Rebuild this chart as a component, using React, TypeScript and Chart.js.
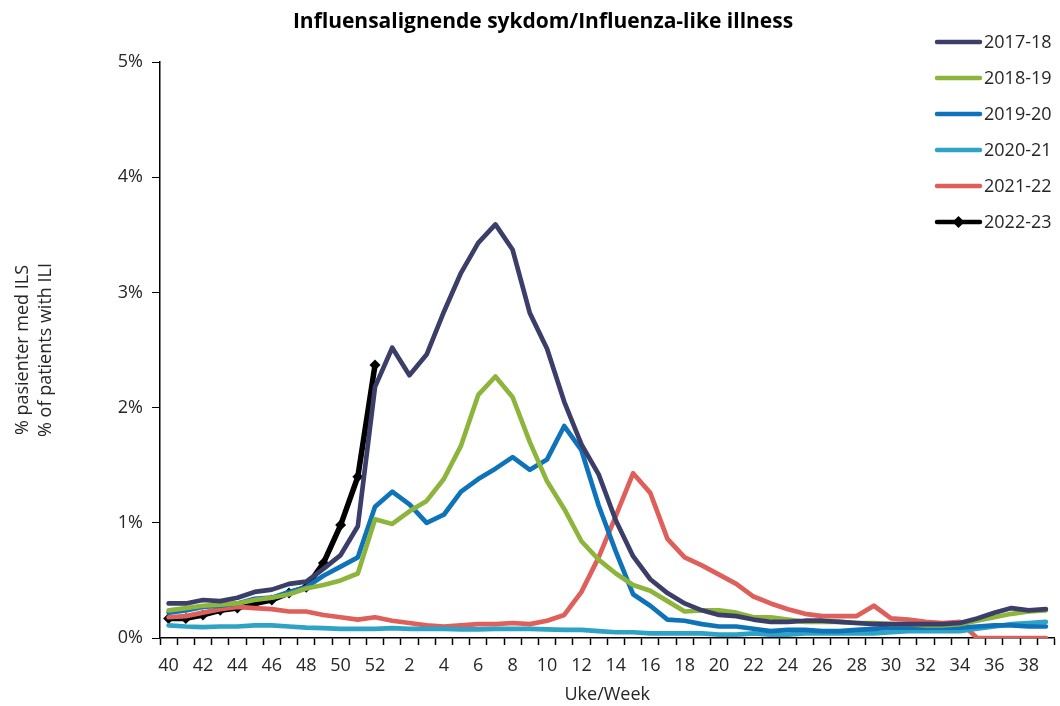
import React, { useEffect, useRef } from "react";
import { Chart, registerables } from "chart.js";

Chart.register(...registerables);

const weeks: string[] = [
  "40","41","42","43","44","45","46","47","48","49","50","51","52",
  "1","2","3","4","5","6","7","8","9","10","11","12","13","14","15","16","17","18","19","20",
  "21","22","23","24","25","26","27","28","29","30","31","32","33","34","35","36","37","38","39",
];

const s2017_18 = [
  0.30,0.30,0.33,0.32,0.35,0.40,0.42,0.47,0.49,0.60,0.72,0.97,2.18,
  2.52,2.28,2.46,2.83,3.17,3.43,3.59,3.37,2.82,2.51,2.05,1.68,1.42,1.02,0.71,0.51,0.39,0.30,0.24,0.20,
  0.19,0.16,0.14,0.14,0.15,0.15,0.14,0.13,0.12,0.12,0.12,0.12,0.12,0.13,0.17,0.22,0.26,0.24,0.25,
];
const s2018_19 = [
  0.24,0.26,0.28,0.29,0.30,0.33,0.35,0.38,0.43,0.46,0.50,0.56,1.03,
  0.99,1.10,1.19,1.38,1.67,2.11,2.27,2.09,1.70,1.36,1.12,0.84,0.68,0.56,0.46,0.41,0.32,0.23,0.24,0.24,
  0.22,0.18,0.18,0.16,0.14,0.14,0.14,0.13,0.13,0.12,0.12,0.11,0.11,0.12,0.15,0.18,0.21,0.23,0.24,
];
const s2019_20 = [
  0.22,0.24,0.27,0.28,0.30,0.34,0.35,0.40,0.44,0.54,0.62,0.70,1.14,
  1.27,1.16,1.00,1.07,1.27,1.38,1.47,1.57,1.46,1.55,1.84,1.63,1.15,0.75,0.38,0.28,0.16,0.15,0.12,0.10,
  0.10,0.08,0.06,0.07,0.07,0.06,0.06,0.07,0.08,0.09,0.09,0.09,0.09,0.09,0.10,0.11,0.11,0.10,0.10,
];
const s2020_21 = [
  0.11,0.10,0.095,0.10,0.10,0.11,0.11,0.10,0.09,0.085,0.08,0.08,0.08,
  0.085,0.08,0.08,0.08,0.075,0.075,0.08,0.08,0.08,0.075,0.07,0.07,0.06,0.05,0.05,0.04,0.04,0.04,0.04,0.03,
  0.03,0.04,0.03,0.03,0.04,0.04,0.04,0.04,0.04,0.05,0.06,0.06,0.06,0.06,0.08,0.10,0.12,0.13,0.14,
];
const s2021_22 = [
  0.18,0.19,0.22,0.25,0.27,0.26,0.25,0.23,0.23,0.20,0.18,0.16,0.18,
  0.15,0.13,0.11,0.10,0.11,0.12,0.12,0.13,0.12,0.15,0.20,0.40,0.70,1.06,1.43,1.26,0.86,0.70,0.63,0.55,
  0.47,0.36,0.30,0.25,0.21,0.19,0.19,0.19,0.28,0.17,0.16,0.14,0.13,0.14,0,0,0,0,0,
];
const s2022_23: (number | null)[] = [
  0.17,0.17,0.20,0.24,0.26,0.30,0.33,0.39,0.44,0.65,0.98,1.40,2.37,
];

const yTicks = [0, 1, 2, 3, 4, 5];

const FONT = "'Open Sans', Lato, sans-serif";
const TEXT = "#262626";

const seriesDefs = [
  { label: "2017-18", data: s2017_18, color: "#3a3e69" },
  { label: "2018-19", data: s2018_19, color: "#8db53c" },
  { label: "2019-20", data: s2019_20, color: "#0e73b9" },
  { label: "2020-21", data: s2020_21, color: "#2ea3c6" },
  { label: "2021-22", data: s2021_22, color: "#df5f5a" },
];

const overlayPlugin = {
  id: "overlay",
  afterDraw(chart: any) {
    const ctx = chart.ctx as CanvasRenderingContext2D;
    ctx.save();
    ctx.fillStyle = "#000";
    ctx.font = `bold 21px ${FONT}`;
    ctx.textAlign = "center";
    ctx.textBaseline = "middle";
    ctx.fillText("Influensalignende sykdom/Influenza-like illness", 543, 22);
    ctx.font = `18px ${FONT}`;
    ctx.textAlign = "left";
    chart.data.datasets.forEach((ds: any, i: number) => {
      const y = 42 + i * 36;
      ctx.strokeStyle = ds.borderColor;
      ctx.lineWidth = 4.5;
      ctx.lineCap = "round";
      ctx.beginPath();
      ctx.moveTo(937, y);
      ctx.lineTo(980, y);
      ctx.stroke();
      if (ds.pointRadius > 0) {
        ctx.fillStyle = ds.borderColor;
        ctx.beginPath();
        ctx.moveTo(958.5, y - 6);
        ctx.lineTo(964.5, y);
        ctx.lineTo(958.5, y + 6);
        ctx.lineTo(952.5, y);
        ctx.closePath();
        ctx.fill();
      }
      ctx.fillStyle = TEXT;
      ctx.fillText(ds.label, 984, y + 1);
    });
    ctx.restore();
  },
};

export default function App() {
  const ref = useRef<HTMLCanvasElement | null>(null);

  useEffect(() => {
    if (!ref.current) return;
    const datasets: any[] = seriesDefs.map((s) => ({
      label: s.label,
      data: s.data,
      borderColor: s.color,
      backgroundColor: s.color,
      borderWidth: 4.7,
      pointRadius: 0,
      tension: 0,
      borderJoinStyle: "round",
      borderCapStyle: "round",
    }));
    datasets.push({
      label: "2022-23",
      data: s2022_23,
      borderColor: "#000000",
      backgroundColor: "#000000",
      borderWidth: 5.5,
      pointRadius: 5.5,
      pointStyle: "rectRot",
      pointBorderWidth: 0,
      tension: 0,
      borderJoinStyle: "round",
    });

    const chart = new Chart(ref.current, {
      type: "line",
      data: { labels: weeks, datasets },
      plugins: [overlayPlugin],
      options: {
        animation: false,
        responsive: true,
        maintainAspectRatio: false,
        layout: { padding: { left: 0, right: 2, top: 62, bottom: 0 } },
        plugins: {
          legend: { display: false },
          title: { display: false },
          tooltip: { enabled: false },
        },
        scales: {
          x: {
            type: "category",
            offset: true,
            grid: {
              offset: true,
              drawOnChartArea: false,
              drawTicks: true,
              tickLength: 7,
              tickColor: "#000",
              tickWidth: 1.5,
            },
            border: { color: "#000", width: 1.5 },
            ticks: {
              autoSkip: false,
              maxRotation: 0,
              color: TEXT,
              font: { family: FONT, size: 18 },
              padding: 10,
              callback: (_v: any, i: number) => (i % 2 === 0 ? weeks[i] : ""),
            },
            title: {
              display: true,
              text: "Uke/Week",
              color: TEXT,
              font: { family: FONT, size: 18 },
              padding: { top: 0, bottom: 0 },
            },
            afterFit: (scale: any) => {
              scale.height = 68;
            },
          },
          y: {
            min: 0,
            max: 5,
            afterBuildTicks: (scale: any) => {
              scale.ticks = yTicks.map((v) => ({ value: v }));
            },
            grid: {
              drawOnChartArea: false,
              drawTicks: true,
              tickLength: 8,
              tickColor: "#000",
              tickWidth: 1,
            },
            border: { color: "#000", width: 1.5 },
            ticks: {
              color: TEXT,
              font: { family: FONT, size: 18 },
              padding: 9,
              callback: (v: any) => `${v}%`,
            },
            title: {
              display: true,
              text: ["% pasienter med ILS", "% of patients with ILI"],
              color: TEXT,
              font: { family: FONT, size: 18, lineHeight: 1.3 },
              padding: { top: 11, bottom: 0 },
            },
            afterFit: (scale: any) => {
              scale.width = 160;
            },
          },
        },
      },
    });
    return () => chart.destroy();
  }, []);

  return (
    <div style={{ position: "absolute", left: 0, top: 0, width: 1060, height: 706 }}>
      <canvas ref={ref} />
    </div>
  );
}
